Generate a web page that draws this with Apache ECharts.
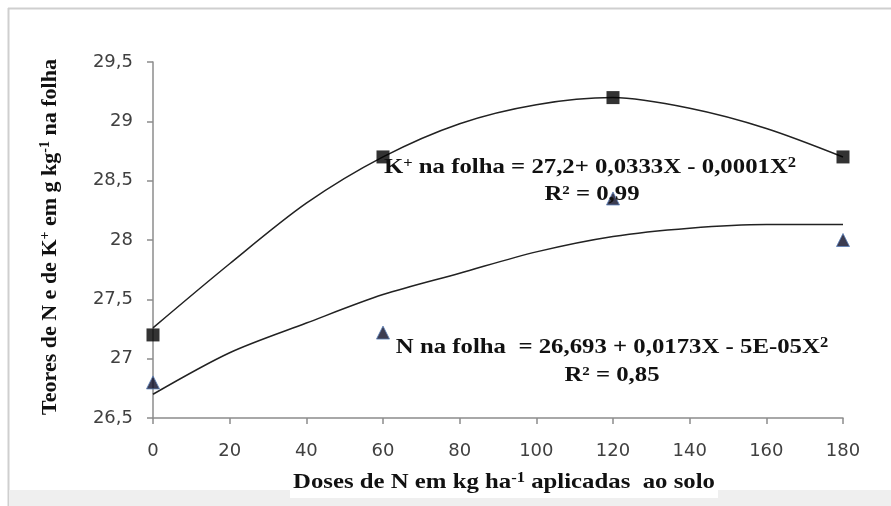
<!DOCTYPE html>
<html>
<head>
<meta charset="utf-8">
<script src="https://cdn.jsdelivr.net/npm/echarts@6/dist/echarts.min.js"></script>
<style>
html,body{margin:0;padding:0;background:#fff;}
#chart{width:891px;height:506px;}
</style>
</head>
<body>
<div id="chart"></div>
<script>
// ---- data ----
var doses = [0, 60, 120, 180];
var kValues = [27.2, 28.7, 29.2, 28.7];
var nValues = [26.8, 27.22, 28.35, 28.0];

// trend curves
var curveX = [0, 20, 40, 60, 80, 100, 120, 140, 160, 180];
var kCurveY = [27.26, 27.80, 28.31, 28.70, 28.98, 29.14, 29.20, 29.11, 28.94, 28.70];
var nCurveY = [26.70, 27.05, 27.30, 27.54, 27.72, 27.90, 28.03, 28.10, 28.13, 28.13];

var xTicks = {min: 0, max: 180, interval: 20};
var yTicks = {min: 26.5, max: 29.5, interval: 0.5};

var kEquation = 'K{sup|+} na folha = 27,2+ 0,0333X - 0,0001X{sup|2}';
var kR2 = 'R² = 0,99';
var nEquation = 'N na folha  = 26,693 + 0,0173X - 5E-05X{sup|2}';
var nR2 = 'R² = 0,85';
var yTitle = 'Teores de N e de K{sup|+} em g kg{sup|-1} na folha';
var xTitle = 'Doses de N em kg ha{sup|-1} aplicadas  ao solo';

function pairs(xs, ys){ return xs.map(function(x,i){ return [x, ys[i]]; }); }

var serif = '"Liberation Serif", "Times New Roman", serif';
function textEl(text, x, y, size, rot, sx){
  return {
    type: 'text', x: x, y: y, rotation: rot || 0, scaleX: sx || 1, z: 100,
    style: {
      text: text, fontFamily: serif, fontWeight: 'bold', fontSize: size,
      fill: '#111', align: 'center', verticalAlign: 'middle', lineHeight: size + 2,
      rich: {
        sup: {fontFamily: serif, fontWeight: 'bold', fontSize: Math.round(size * 0.65),
              verticalAlign: 'top', lineHeight: size + 2, fill: '#111'}
      }
    }
  };
}

var chart = echarts.init(document.getElementById('chart'), null, {renderer: 'canvas'});
chart.setOption({
  animation: false,
  backgroundColor: '#fff',
  grid: {left: 153, right: 48, top: 62, bottom: 88},
  xAxis: {
    type: 'value', min: xTicks.min, max: xTicks.max, interval: xTicks.interval,
    axisLine: {show: true, lineStyle: {color: '#8c8c8c', width: 1.5}},
    axisTick: {show: true, length: 6, lineStyle: {color: '#8c8c8c', width: 1.5}},
    splitLine: {show: false},
    axisLabel: {color: '#404040', fontFamily: '"DejaVu Sans", sans-serif', fontSize: 18, margin: 24}
  },
  yAxis: {
    type: 'value', min: yTicks.min, max: yTicks.max, interval: yTicks.interval,
    axisLine: {show: true, lineStyle: {color: '#8c8c8c', width: 1.5}},
    axisTick: {show: true, length: 6, lineStyle: {color: '#8c8c8c', width: 1.5}},
    splitLine: {show: false},
    axisLabel: {
      color: '#404040', fontFamily: '"DejaVu Sans", sans-serif', fontSize: 18, margin: 20,
      formatter: function(v){ return String(v).replace('.', ','); }
    }
  },
  series: [
    {type: 'line', data: pairs(curveX, kCurveY), smooth: 0.3, showSymbol: false,
     lineStyle: {color: '#222', width: 1.5}, z: 2},
    {type: 'line', data: pairs(curveX, nCurveY), smooth: 0.3, showSymbol: false,
     lineStyle: {color: '#222', width: 1.5}, z: 2},
    {type: 'scatter', data: pairs(doses, kValues), symbol: 'rect', symbolSize: 13,
     itemStyle: {color: '#000'}, z: 3},
    {type: 'scatter', data: pairs(doses, nValues), symbol: 'triangle', symbolSize: 13,
     itemStyle: {color: '#0b0b26', borderColor: '#5b7fb8', borderWidth: 1}, z: 3}
  ],
  graphic: [
    {type: 'line', shape: {x1: 8, y1: 8.5, x2: 891, y2: 8.5}, style: {stroke: '#cfcfcf', lineWidth: 2}, z: 0},
    {type: 'line', shape: {x1: 8.5, y1: 8, x2: 8.5, y2: 506}, style: {stroke: '#cfcfcf', lineWidth: 2}, z: 0},
    {type: 'rect', shape: {x: 9, y: 490, width: 882, height: 16}, style: {fill: '#efefef'}, z: 0},
    {type: 'rect', shape: {x: 290, y: 470, width: 428, height: 28}, style: {fill: '#fff'}, z: 1},
    textEl(kEquation, 590, 168, 21, 0, 1.18),
    textEl(kR2, 592, 195, 21, 0, 1.18),
    textEl(nEquation, 612, 348, 21, 0, 1.18),
    textEl(nR2, 612, 376, 21, 0, 1.18),
    textEl(yTitle, 50, 237, 22, Math.PI / 2, 1),
    textEl(xTitle, 504, 483, 21, 0, 1.18)
  ]
});
</script>
</body>
</html>
